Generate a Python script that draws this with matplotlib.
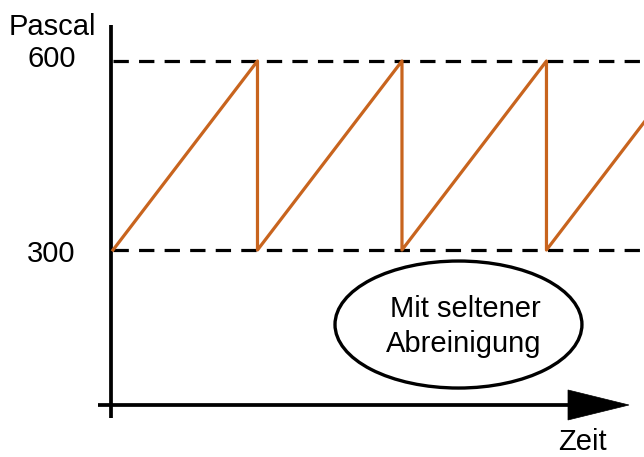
import matplotlib
matplotlib.use("Agg")
import matplotlib.pyplot as plt
from matplotlib.patches import Ellipse, Polygon

# data
cycle_times = [0, 1, 1, 2, 2, 3, 3, 4]
pressure = [300, 600, 300, 600, 300, 600, 300, 600]
limit_values = [600, 300]
limit_labels = ["600", "300"]
y_title = "Pascal"
x_title = "Zeit"
note_lines = ["Mit seltener", "Abreinigung"]

plt.rcParams['font.family'] = ['Liberation Sans', 'DejaVu Sans']

fig = plt.figure(figsize=(6.44, 4.57), dpi=100)
ax = fig.add_axes([0, 0, 1, 1])
ax.set_xlim(-0.782, 3.675)
ax.set_ylim(-28.57, 696.83)
ax.axis('off')

FS = 21
# y axis
ax.plot([-0.014, -0.014], [33.3, 657.1], color='black', lw=2.7, solid_capstyle='butt')
# x axis
ax.plot([-0.104, 3.16], [53.97, 53.97], color='black', lw=2.7, solid_capstyle='butt')
ax.add_patch(Polygon([[3.149, 77.8], [3.571, 53.97], [3.149, 30.2]], closed=True,
                     facecolor='black', edgecolor='black', lw=0.5))

# dashed limit lines
for v in limit_values:
    ax.plot([0.0, 3.7], [v, v], color='black', lw=2.3, linestyle=(0, (4.8, 3.2)),
            solid_capstyle='butt', dash_capstyle='butt')

# sawtooth
ax.plot(cycle_times, pressure, color='#C8641E', lw=2.3, zorder=3)

# labels
ax.text(-0.422, 641.3, y_title, ha='center', va='baseline', fontsize=FS)
for v, lab, yb in zip(limit_values, limit_labels, [590.5, 280.95]):
    ax.text(-0.425, yb, lab, ha='center', va='baseline', fontsize=FS)
ax.text(3.246, -17.5, x_title, ha='center', va='baseline', fontsize=FS)

# ellipse note
ax.add_patch(Ellipse((2.391, 181.7), 1.709, 201.6, facecolor='white',
                     edgecolor='black', lw=2.4, zorder=4))
ax.text(2.436, 193.6, note_lines[0], ha='center', va='baseline', fontsize=FS, zorder=5)
ax.text(2.429, 138.1, note_lines[1], ha='center', va='baseline', fontsize=FS, zorder=5)

fig.savefig('out.png', dpi=100)
